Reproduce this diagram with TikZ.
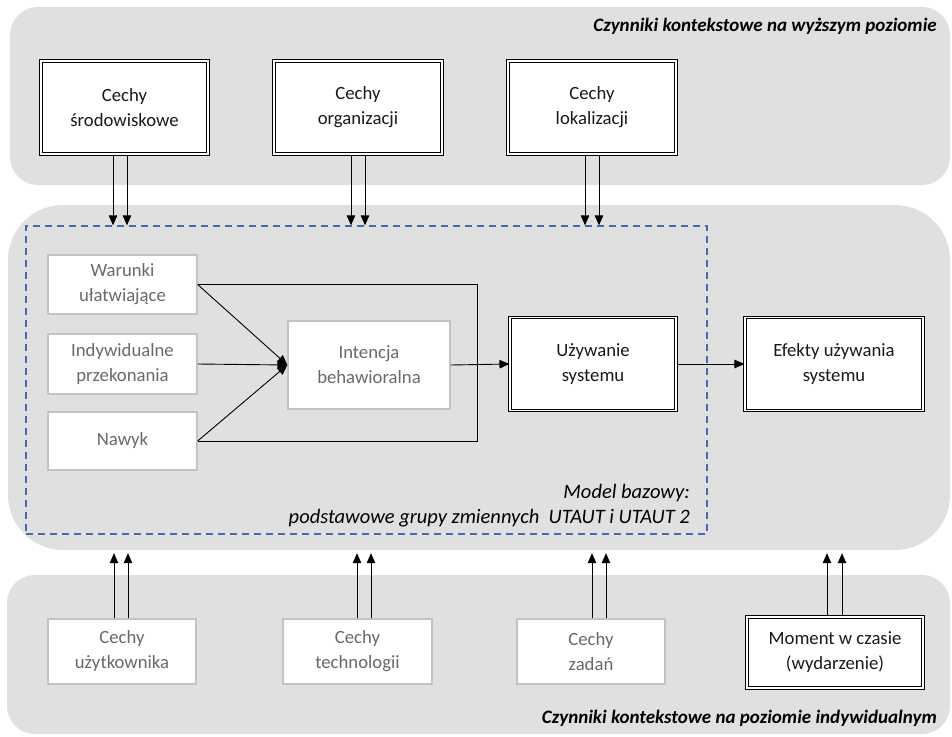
\documentclass[tikz,border=0pt]{standalone}
\usepackage{fontspec}
\setmainfont{Carlito}
\usetikzlibrary{arrows.meta,calc}
\definecolor{panelgray}{RGB}{224,224,224}
\definecolor{dashblue}{RGB}{68,108,172}
\definecolor{softline}{RGB}{195,195,195}
\definecolor{softtext}{RGB}{105,105,105}
\begin{document}
\begin{tikzpicture}[x=1pt,y=-1pt,
  font=\fontsize{18.7}{25}\selectfont,
  panel/.style={fill=panelgray, draw=none, inner sep=0pt},
  mainbox/.style={draw=black, line width=1.1pt, double=white, double distance=1.7pt,
    fill=white, align=center, inner sep=0pt, text=black!90},
  softbox/.style={draw=softline, line width=1.3pt, fill=white, align=center,
    inner sep=0pt, text=softtext},
  arr/.style={-{Triangle[length=10pt,width=8.5pt]}, line width=0.9pt, black},
  link/.style={line width=0.9pt, black},
  paneltitle/.style={font=\fontsize{19}{22}\selectfont\bfseries\itshape, anchor=east, inner sep=0pt}
]
\useasboundingbox (0,0) rectangle (952,736);

% background panels
\node[panel, rounded corners=28pt, minimum width=940pt, minimum height=178pt] (toppanel) at (480,96) {};
\node[panel, rounded corners=55pt, minimum width=942pt, minimum height=345pt] (midpanel) at (479,377.5) {};
\node[panel, rounded corners=28pt, minimum width=943pt, minimum height=159pt] (botpanel) at (478.5,654.5) {};

\node[paneltitle] (toptitle) at (937,26) {Czynniki kontekstowe na wyższym poziomie};
\node[paneltitle] (bottitle) at (937,718) {Czynniki kontekstowe na poziomie indywidualnym};

% base model frame
\node[draw=dashblue, dashed, dash pattern=on 7pt off 5pt, line width=1.3pt,
  minimum width=681pt, minimum height=308pt, inner sep=0pt] (model) at (366.5,380) {};
\node[anchor=east, align=right, inner sep=0pt, font=\fontsize{20.5}{25}\selectfont\itshape]
  (modeltext) at (690,506) {Model bazowy:\\podstawowe grupy zmiennych\ \ UTAUT i UTAUT 2};

% higher-level factors
\node[mainbox, minimum width=167pt, minimum height=93pt] (srod) at (124.5,107.5) {Cechy\\środowiskowe};
\node[mainbox, minimum width=168pt, minimum height=93pt] (org) at (358,107.5) {Cechy\\organizacji};
\node[mainbox, minimum width=168pt, minimum height=93pt] (lok) at (592,107.5) {Cechy\\lokalizacji};

% base model variables
\node[softbox, minimum width=149pt, minimum height=59pt] (war) at (122.5,284.5) {Warunki\\ułatwiające};
\node[softbox, minimum width=149pt, minimum height=60pt] (ind) at (122.5,364) {Indywidualne\\przekonania};
\node[softbox, minimum width=149pt, minimum height=58pt] (nawyk) at (122.5,441) {Nawyk};
\node[softbox, minimum width=162pt, minimum height=88pt] (int) at (369,365) {Intencja\\behawioralna};
\node[mainbox, minimum width=166pt, minimum height=93pt] (uzyw) at (593,364) {Używanie\\systemu};
\node[mainbox, minimum width=178pt, minimum height=93pt] (efekty) at (834,364) {Efekty używania\\systemu};

% individual-level factors
\node[softbox, minimum width=148pt, minimum height=65pt] (user) at (122,651.5) {Cechy\\użytkownika};
\node[softbox, minimum width=149pt, minimum height=65pt] (tech) at (357.5,651.5) {Cechy\\technologii};
\node[softbox, minimum width=148pt, minimum height=65pt] (zad) at (591,651.5) {Cechy\\zadań};
\node[mainbox, minimum width=176pt, minimum height=71pt] (moment) at (835,652.5) {Moment w czasie\\(wydarzenie)};

% connectors inside the base model
\draw[arr] (war.east) -- (int.west);
\draw[arr] (ind.east) -- (int.west);
\draw[arr] (nawyk.east) -- (int.west);
\draw[link] (war.east) -- ++(280,0) |- (nawyk.east);
\draw[arr] (int.east) -- (uzyw.west);
\draw[arr] (uzyw.east) -- (efekty.west);

% higher-level influences (pairs of arrows)
\foreach \n/\a/\b in {srod/-11.5/2.5, org/-7/7, lok/-7/7}{
  \draw[arr] ($(\n.south)+(\a,0)$) -- ($(\n.south |- model.north)+(\a,0)$);
  \draw[arr] ($(\n.south)+(\b,0)$) -- ($(\n.south |- model.north)+(\b,0)$);
}

% individual-level influences (pairs of arrows)
\foreach \n/\a/\b in {user/-8/6, tech/-0.5/13.5, zad/1/15, moment/-8/7}{
  \draw[arr] ($(\n.north)+(\a,0)$) -- ($(\n.north |- midpanel.south)+(\a,3)$);
  \draw[arr] ($(\n.north)+(\b,0)$) -- ($(\n.north |- midpanel.south)+(\b,3)$);
}
\end{tikzpicture}
\end{document}
